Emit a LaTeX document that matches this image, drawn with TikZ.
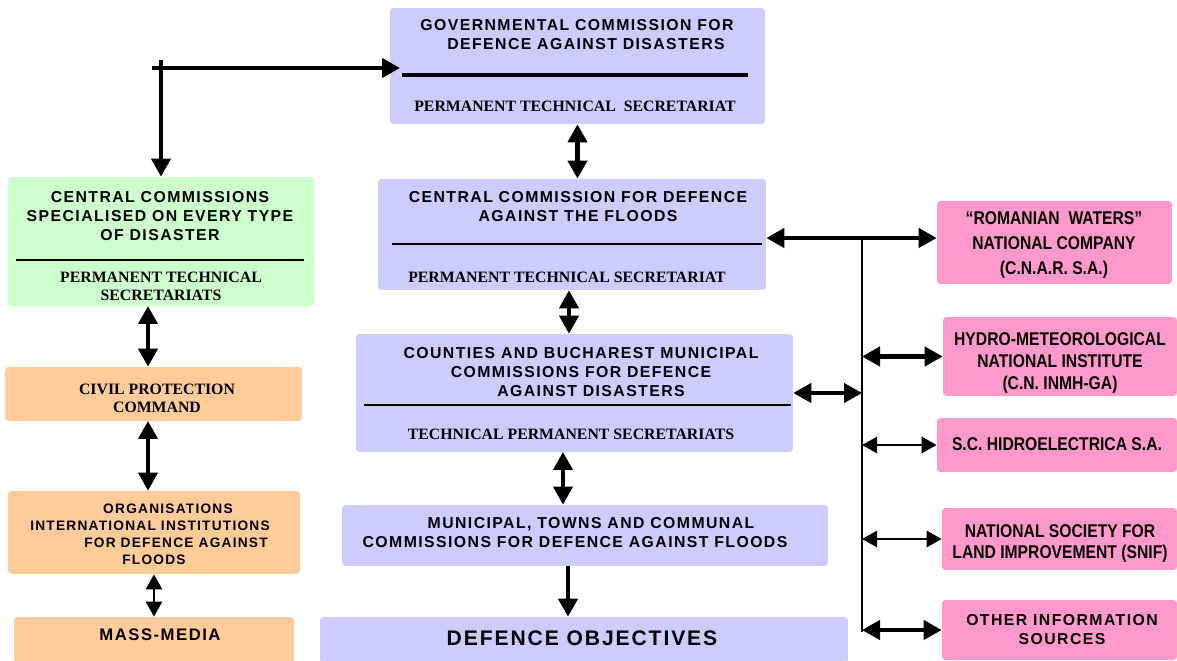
\documentclass[tikz,border=0pt]{standalone}
\usepackage{fontspec}
\setmainfont{Liberation Serif}
\newfontfamily\headfont[LetterSpace=9]{Liberation Sans}
\newfontfamily\narrowfont[FakeStretch=0.85]{Liberation Sans}
\usepackage{tikz}
\usetikzlibrary{arrows.meta,positioning}
\definecolor{govblue}{HTML}{CCCCFF}
\definecolor{specgreen}{HTML}{CCFFCC}
\definecolor{civorange}{HTML}{FFCC99}
\definecolor{infopink}{HTML}{FF99CC}
\tikzset{
  box/.style={rectangle, rounded corners=2pt, inner sep=0pt, draw=none},
  head/.style={font=\headfont\bfseries\fontsize{9}{10.8}\selectfont, align=center, inner sep=0pt},
  sub/.style={font=\bfseries\fontsize{9}{10.2}\selectfont, align=center, inner sep=0pt},
  info/.style={font=\narrowfont\bfseries\fontsize{10.5}{12.3}\selectfont, align=center, inner sep=0pt},
  dbl/.style={{Triangle[length=0.36cm,width=0.38cm]}-{Triangle[length=0.36cm,width=0.38cm]}, line width=2.3pt},
  dblthin/.style={{Triangle[length=0.3cm,width=0.32cm]}-{Triangle[length=0.3cm,width=0.32cm]}, line width=1.6pt},
  one/.style={-{Triangle[length=0.36cm,width=0.38cm]}, line width=2.3pt}
}
\begin{document}
\begin{tikzpicture}[x=0.02cm, y=-0.02cm]
   \useasboundingbox (0,0) rectangle (1177,661);
   % central column
   \begin{scope}[every node/.style={box, fill=govblue}]
    \node (gov) at (577.5,66) [minimum width=7.5cm, minimum height=2.32cm] {};
    \node (flood) at (572,234.5) [minimum width=7.76cm, minimum height=2.22cm] {};
    \node (county) at (574.5,393) [minimum width=8.74cm, minimum height=2.36cm] {};
    \node (munic) at (585,535.5) [minimum width=9.72cm, minimum height=1.22cm] {};
    \node (objectives) at (584,640) [minimum width=10.56cm, minimum height=0.92cm] {};
   \end{scope}
   % left column
   \node (special) at (161,241.5) [box, fill=specgreen, minimum width=6.12cm, minimum height=2.58cm] {};
   \begin{scope}[every node/.style={box, fill=civorange}]
    \node (civil) at (153.5,394) [minimum width=5.94cm, minimum height=1.08cm] {};
    \node (org) at (154,532.5) [minimum width=5.84cm, minimum height=1.66cm] {};
    \node (media) at (154,640) [minimum width=5.6cm, minimum height=0.92cm] {};
   \end{scope}
   % right column
   \begin{scope}[every node/.style={box, fill=infopink}]
    \node (waters) at (1054.5,242.5) [minimum width=4.7cm, minimum height=1.66cm] {};
    \node (hydro) at (1060,356.5) [minimum width=4.68cm, minimum height=1.58cm] {};
    \node (hidro) at (1057,445) [minimum width=4.8cm, minimum height=1.08cm] {};
    \node (snif) at (1059.5,539) [minimum width=4.7cm, minimum height=1.24cm] {};
    \node (other) at (1059.5,630) [minimum width=4.7cm, minimum height=1.2cm] {};
   \end{scope}
   % texts
   \node[head] (govhead) at (577,34.5) {GOVERNMENTAL COMMISSION FOR\\\hspace*{0.36cm}DEFENCE AGAINST DISASTERS};
   \node[sub] (govsub) at (575,106) {PERMANENT TECHNICAL\ \ SECRETARIAT};
   \node[head] (floodhead) at (578,207) {CENTRAL COMMISSION FOR DEFENCE\\AGAINST THE FLOODS};
   \node[sub] (floodsub) at (567,277) {PERMANENT TECHNICAL SECRETARIAT};
   \node[head] (countyhead) at (581,372) {COUNTIES AND BUCHAREST MUNICIPAL\\COMMISSIONS FOR DEFENCE\\\hspace*{0.4cm}AGAINST DISASTERS};
   \node[sub] (countysub) at (571,434) {TECHNICAL PERMANENT SECRETARIATS};
   \node[head] (munichead) at (575,533) {\hspace*{0.64cm}MUNICIPAL, TOWNS AND COMMUNAL\\COMMISSIONS FOR DEFENCE AGAINST FLOODS};
   \node[head, font=\headfont\bfseries\fontsize{12}{14}\selectfont] (objhead) at (582,638) {DEFENCE OBJECTIVES};
   \node[head] (specialhead) at (160,216) {CENTRAL COMMISSIONS\\SPECIALISED ON EVERY TYPE\\OF DISASTER};
   \node[sub] (specialsub) at (161,286) {PERMANENT TECHNICAL\\SECRETARIATS};
   \node[sub] (civilhead) at (157,398) {CIVIL PROTECTION\\COMMAND};
   \node[head, font=\headfont\bfseries\fontsize{7.8}{9.6}\selectfont] (orghead) at (150,534) {\hspace*{0.72cm}ORGANISATIONS\\INTERNATIONAL INSTITUTIONS\\\hspace*{1.04cm}FOR DEFENCE AGAINST\\\hspace*{0.16cm}FLOODS};
   \node[head, font=\headfont\bfseries\fontsize{9.5}{11}\selectfont] (mediahead) at (160,635) {MASS-MEDIA};
   \node[info, font=\narrowfont\bfseries\fontsize{10.5}{14}\selectfont] (watershead) at (1054,245) {“ROMANIAN\ \ WATERS”\\NATIONAL COMPANY\\(C.N.A.R. S.A.)};
   \node[info] (hydrohead) at (1060,363) {HYDRO-METEOROLOGICAL\\NATIONAL INSTITUTE\\(C.N. INMH-GA)};
   \node[info] (hidrohead) at (1057,444) {S.C. HIDROELECTRICA S.A.};
   \node[info] (snifhead) at (1060,543.5) {NATIONAL SOCIETY FOR\\LAND IMPROVEMENT (SNIF)};
   \node[head] (otherhead) at (1062,630) {OTHER INFORMATION\\SOURCES};
   % dividers
   \draw[line width=2.3pt] (402,75) -- (748,75);
   \draw[line width=1.1pt] (392,244) -- (762,244);
   \draw[line width=1.5pt] (364,405) -- (791,405);
   \draw[line width=1pt] (16,260) -- (304,260);
   % connectors
   \coordinate (tl) at (161,60);
   \coordinate (tlh) at (152,68);
   \coordinate (govin) at (400,68);
   \coordinate (c2m) at (563,452);
   \coordinate (m2o) at (568,566);
   \coordinate (s2c) at (148,306);
   \coordinate (c2o) at (148,421);
   \coordinate (bustop) at (862,238);
   \coordinate (busbot) at (862,632);
   \draw[one] (tlh) -- (govin);
   \draw[one] (tl) -- (special.north);
   \draw[line width=1.5pt] (bustop) -- (busbot);
   \begin{scope}[every edge/.style={draw=black, dbl}]
    \draw (gov.south) edge (gov.south |- flood.north);
    \draw ([xshift=-0.06cm]flood.south) edge ([xshift=-0.06cm]flood.south |- county.north);
    \draw (c2m) edge (c2m |- munic.north);
    \draw (s2c) edge (s2c |- civil.north);
    \draw (c2o) edge (c2o |- org.north);
    \draw (flood.east |- bustop) edge (waters.west |- bustop);
    \draw (county.east) edge (bustop |- county.east);
    \draw (bustop |- hydro.west) edge (hydro.west);
    \draw (bustop |- other.west) edge (other.west);
   \end{scope}
   \begin{scope}[every edge/.style={draw=black, dblthin}]
    \draw (org.south) edge (org.south |- media.north);
    \draw (bustop |- hidro.west) edge (hidro.west);
    \draw (bustop |- snif.west) edge (snif.west);
   \end{scope}
   \draw[one] (m2o) -- (m2o |- objectives.north);
\end{tikzpicture}
\end{document}
